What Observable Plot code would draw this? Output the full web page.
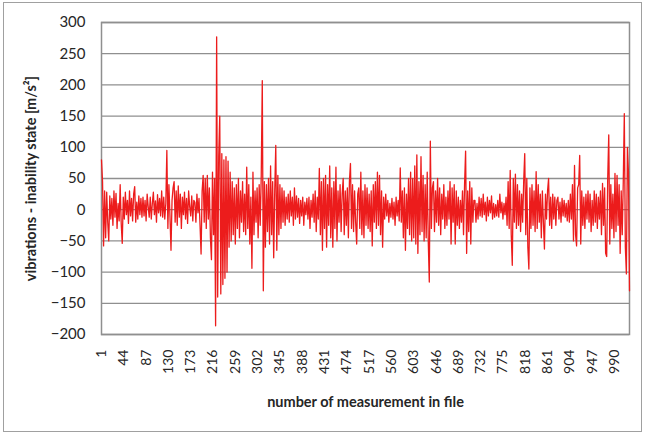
<!DOCTYPE html>
<html><head><meta charset="utf-8">
<script src="https://cdn.jsdelivr.net/npm/d3@7"></script>
<script src="https://cdn.jsdelivr.net/npm/@observablehq/plot@0.6"></script>
<style>
html,body{margin:0;padding:0;background:#fff;}
#chart{position:relative;width:647px;height:434px;}
#border{position:absolute;left:3px;top:2px;width:639px;height:430px;border:1px solid #a0a0a0;box-sizing:border-box;pointer-events:none;}
</style></head><body><div id="chart"><div id="border"></div></div>
<script>
// vibration values, read every second measurement (1, 3, 5, ... 1019)
const values = [
80,45,-58,30,-45,28,-20,-50,22,-15,
18,-25,30,-12,26,-30,10,-18,40,-22,
-54,20,-15,28,-8,15,-22,30,-10,18,
-18,25,37,-20,12,-15,22,-8,18,-12,
20,-10,15,-18,25,5,-12,20,-15,10,
28,-8,14,-20,24,-5,18,-10,30,-12,
20,-15,10,95,-30,40,-10,-65,15,35,
45,-20,30,-25,38,-12,25,-30,20,-8,
28,-15,18,-22,30,5,-10,22,-18,15,
12,-20,25,-5,18,-25,-71,30,55,-20,
50,-30,55,-15,35,-45,-80,60,-40,50,
-186,277,-140,85,150,-135,90,-120,80,-110,
85,-100,78,-60,60,-50,45,-40,35,-55,
40,-30,50,-45,30,-20,45,-35,25,-40,
68,-30,40,-55,20,-94,60,-40,30,-20,
35,-45,40,-25,55,207,-130,45,-60,40,
-35,50,-55,70,-40,45,-77,30,103,-65,
55,-40,40,-30,35,-20,30,-25,20,-15,
25,-20,30,-10,20,-25,35,-15,22,-12,
18,-22,15,-10,20,-25,12,-8,18,-15,
20,-30,15,-12,25,-20,30,-35,20,-15,
66,-40,45,-65,50,-30,55,-60,40,-25,
70,-45,35,-60,45,-30,68,-50,30,-20,
40,-35,25,50,-40,30,-25,35,-45,45,
74,-30,40,-35,30,-20,-55,25,35,-30,
60,-40,30,-45,40,-25,35,-30,25,-35,
30,-58,40,-20,45,-30,60,-25,55,-40,
30,-60,20,-15,25,-10,15,-20,10,-12,
18,-15,12,-25,20,-10,15,-18,67,-20,
30,-45,35,-65,25,-30,50,-40,60,-50,
50,-45,70,-55,88,-70,45,-40,85,-35,
55,-50,40,-45,60,-50,-116,110,-30,35,
45,-35,30,-20,50,-25,35,-40,25,-15,
40,-30,20,-25,30,-15,45,-55,35,-20,
40,-55,30,-25,20,-30,15,-20,30,-40,
40,94,-70,30,-35,45,-55,35,-20,15,
15,-20,10,-15,20,-10,18,-12,25,-8,
12,-18,20,-10,15,-5,22,-15,10,-12,
8,-10,15,-12,25,-5,12,-15,10,-8,
20,-25,45,-30,63,-40,-89,50,-20,57,
-30,40,-25,30,-35,25,-20,45,90,-40,
50,-60,-95,35,-30,40,-25,30,-35,61,
-30,40,-20,25,-45,30,-20,-63,25,-15,
30,50,-25,20,-30,25,-15,20,-25,15,
20,-15,12,-20,18,-10,15,-12,10,-18,
15,-20,25,-15,40,-50,71,-40,-58,35,
40,87,-55,30,-25,20,-30,25,-15,30,
-20,25,-35,15,-25,30,-20,25,-30,20,
-15,30,-40,42,-25,35,-70,-75,50,120,
-55,40,-30,25,-45,58,-35,55,-25,40,
-70,30,-40,45,154,-60,-103,100,60,-130
];
const firstMeasurement = 1;
const step = 2;
const lastMeasurement = 1019;
const xTicks = [1,44,87,130,173,216,259,302,345,388,431,474,517,560,603,646,689,732,775,818,861,904,947,990];
const yTicks = [-200,-150,-100,-50,0,50,100,150,200,250,300];
const yTitle = "vibrations - inability state [m/s²]";
const xTitle = "number of measurement in file";

const data = values.map((v, i) => ({n: firstMeasurement + i * step, v}));

const plot = Plot.plot({
  width: 647, height: 434,
  marginLeft: 101, marginRight: 18, marginTop: 22, marginBottom: 100,
  style: {fontFamily: "Lato, 'Open Sans', sans-serif", fontSize: "14px", color: "#262626", background: "transparent"},
  x: {domain: [firstMeasurement, lastMeasurement]},
  y: {domain: [-200, 300]},
  marks: [
    Plot.gridY(yTicks, {stroke: "#8f8f8f", strokeOpacity: 1, strokeWidth: 1.3}),
    Plot.frame({stroke: "#8f8f8f", strokeWidth: 1.5}),
    Plot.lineY(data, {x: "n", y: "v", stroke: "#ec1c1c", strokeWidth: 1.3}),
    Plot.axisY(yTicks, {tickSize: 0, tickPadding: 16, label: null, fontSize: 15}),
    Plot.axisX(xTicks, {tickSize: 0, tickRotate: -90, tickPadding: 15, label: null, fontSize: 14}),
    Plot.text([yTitle], {frameAnchor: "left", textAnchor: "middle", rotate: -90, dx: -70, fontWeight: "bold", fontSize: 14.5, fill: "#262626"}),
    Plot.text([xTitle], {frameAnchor: "bottom", textAnchor: "middle", dy: 72, fontWeight: "bold", fontSize: 14.5, fill: "#262626"})
  ]
});
document.getElementById("chart").appendChild(plot);
</script>
</body></html>
